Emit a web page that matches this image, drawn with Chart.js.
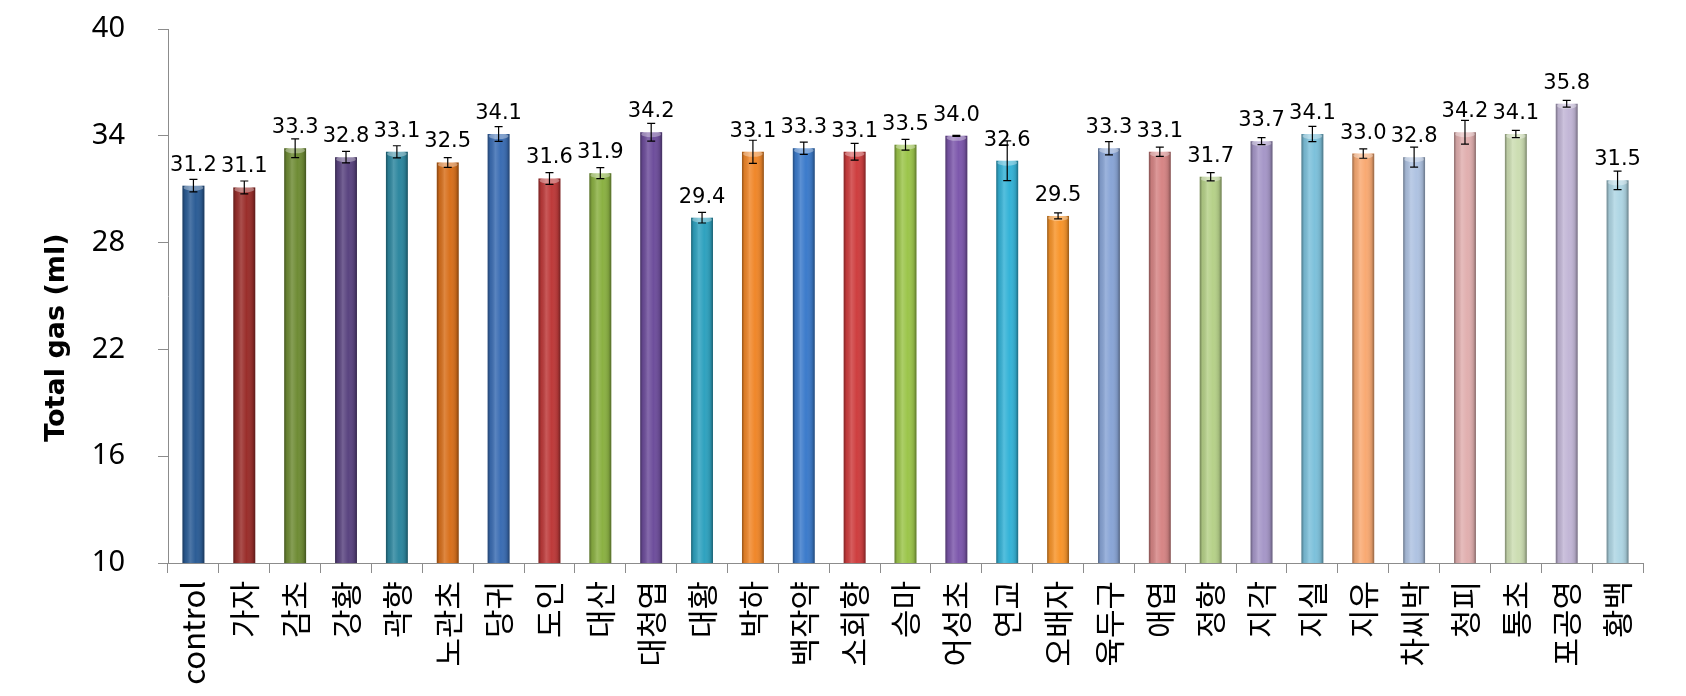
<!DOCTYPE html>
<html>
<head>
<meta charset="utf-8">
<script src="https://cdn.jsdelivr.net/npm/chart.js@4.4.0/dist/chart.umd.min.js"></script>
<style>
  html, body { margin: 0; padding: 0; background: #fff; }
  #wrap { width: 1686px; height: 696px; }
</style>
</head>
<body>
<div id="wrap"><canvas id="grafico"></canvas></div>
<script>
// categorias e valores (Total gas, ml)
var categorias = ['control', '가자', '감초', '강황', '곽향', '노관초', '당귀', '도인', '대산', '대청엽',
    '대황', '박하', '백작약', '소회향', '승마', '어성초', '연교', '오배자', '육두구', '애엽',
    '정향', '지각', '지실', '지유', '차씨박', '청피', '통초', '포공영', '황백'];
var valores = [31.2, 31.1, 33.3, 32.8, 33.1, 32.5, 34.1, 31.6, 31.9, 34.2,
    29.4, 33.1, 33.3, 33.1, 33.5, 34.0, 32.6, 29.5, 33.3, 33.1,
    31.7, 33.7, 34.1, 33.0, 32.8, 34.2, 34.1, 35.8, 31.5];
var erros = [0.35, 0.36, 0.53, 0.32, 0.34, 0.27, 0.41, 0.33, 0.31, 0.50,
    0.30, 0.65, 0.34, 0.47, 0.30, 0.03, 1.12, 0.17, 0.37, 0.26,
    0.23, 0.20, 0.43, 0.26, 0.56, 0.67, 0.20, 0.19, 0.52];
var ticksY = [10, 16, 22, 28, 34, 40];
var tituloY = 'Total gas (ml)';

var cores = ['#2C5D96', '#9A2E2B', '#6F8C35', '#5A4480', '#2E879F', '#D8701C',
    '#3B6DB3', '#BE3A3A', '#8BB143', '#6E4E9C', '#2FA2BF', '#F0872A',
    '#3C7BCB', '#CE3E3F', '#9CC54B', '#7D58AC', '#35B3D7', '#F8952B',
    '#89A5D6', '#D68585', '#B6D189', '#A697C8', '#7DC1DB', '#F9AA73',
    '#AFC3E2', '#E1AFAF', '#CCDDB2', '#C2B6D6', '#AFD6E4'];

// sombreado das barras + barras de erro + rotulos
var extras = {
    id: 'extras',
    afterDatasetsDraw: function(chart) {
        var ctx = chart.ctx;
        var y = chart.scales.y;
        var area = chart.chartArea;
        var barras = chart.getDatasetMeta(0).data;
        ctx.save();
        barras.forEach(function(bar, i) {
            var l = bar.x - bar.width / 2;
            var w = bar.width;
            var fundo = Math.min(bar.base, area.bottom);
            var g = ctx.createLinearGradient(l, 0, l + w, 0);
            g.addColorStop(0, 'rgba(0,0,0,0.38)');
            g.addColorStop(0.12, 'rgba(0,0,0,0.08)');
            g.addColorStop(0.35, 'rgba(255,255,255,0.16)');
            g.addColorStop(0.6, 'rgba(255,255,255,0)');
            g.addColorStop(0.88, 'rgba(0,0,0,0.12)');
            g.addColorStop(1, 'rgba(0,0,0,0.4)');
            ctx.fillStyle = g;
            ctx.fillRect(l, bar.y, w, fundo - bar.y);

            ctx.beginPath();
            ctx.ellipse(bar.x, bar.y + 2, w / 2 - 1, 3, 0, 0, Math.PI * 2);
            ctx.fillStyle = 'rgba(255,255,255,0.35)';
            ctx.fill();
        });

        ctx.strokeStyle = '#000';
        ctx.lineWidth = 1.2;
        barras.forEach(function(bar, i) {
            var topo = y.getPixelForValue(valores[i] + erros[i]);
            var base = y.getPixelForValue(valores[i] - erros[i]);
            ctx.beginPath();
            ctx.moveTo(bar.x, topo);
            ctx.lineTo(bar.x, base);
            ctx.moveTo(bar.x - 4, topo);
            ctx.lineTo(bar.x + 4, topo);
            ctx.moveTo(bar.x - 4, base);
            ctx.lineTo(bar.x + 4, base);
            ctx.stroke();
        });

        ctx.fillStyle = '#000';
        ctx.font = '21px "DejaVu Sans", sans-serif';
        ctx.textAlign = 'center';
        ctx.textBaseline = 'bottom';
        barras.forEach(function(bar, i) {
            ctx.fillText(valores[i].toFixed(1), bar.x, bar.y - 10);
        });
        ctx.restore();
    },
    afterDraw: function(chart) {
        // titulo do eixo Y
        var ctx = chart.ctx;
        var area = chart.chartArea;
        ctx.save();
        ctx.translate(57, area.top + (area.bottom - area.top) * 0.578);
        ctx.rotate(-Math.PI / 2);
        ctx.fillStyle = '#000';
        ctx.font = 'bold 27px "DejaVu Sans", sans-serif';
        ctx.textAlign = 'center';
        ctx.textBaseline = 'middle';
        ctx.fillText(tituloY, 0, 0);
        ctx.restore();
    }
};

var grafico = new Chart(document.getElementById('grafico'), {
    type: 'bar',
    data: {
        labels: categorias,
        datasets: [{
            data: valores,
            backgroundColor: cores,
            borderWidth: 0,
            categoryPercentage: 1,
            barPercentage: 0.43
        }]
    },
    options: {
        responsive: true,
        maintainAspectRatio: false,
        animation: false,
        layout: { padding: { top: 29, right: 43, left: 0, bottom: 0 } },
        plugins: {
            legend: { display: false },
            tooltip: { enabled: false }
        },
        scales: {
            x: {
                grid: { drawOnChartArea: false, offset: true, tickLength: 10, color: '#8c8c8c' },
                border: { color: '#8c8c8c' },
                ticks: {
                    autoSkip: false,
                    minRotation: 90,
                    maxRotation: 90,
                    padding: 8,
                    color: '#000',
                    font: { family: '"Noto Sans CJK KR", "Noto Sans", sans-serif', size: 31 }
                },
                afterFit: function(scale) { scale.height = 133; }
            },
            y: {
                min: 10,
                max: 40,
                afterBuildTicks: function(scale) {
                    scale.ticks = ticksY.map(function(v) { return { value: v }; });
                },
                grid: { drawOnChartArea: false, tickLength: 10, color: '#8c8c8c' },
                border: { color: '#8c8c8c' },
                ticks: {
                    padding: 33,
                    color: '#000',
                    font: { family: '"Noto Sans", sans-serif', size: 29 }
                },
                afterFit: function(scale) {
                    scale.width = 168;
                    scale.paddingTop = 18;
                    scale.paddingBottom = 18;
                }
            }
        }
    },
    plugins: [extras]
});
</script>
</body>
</html>
